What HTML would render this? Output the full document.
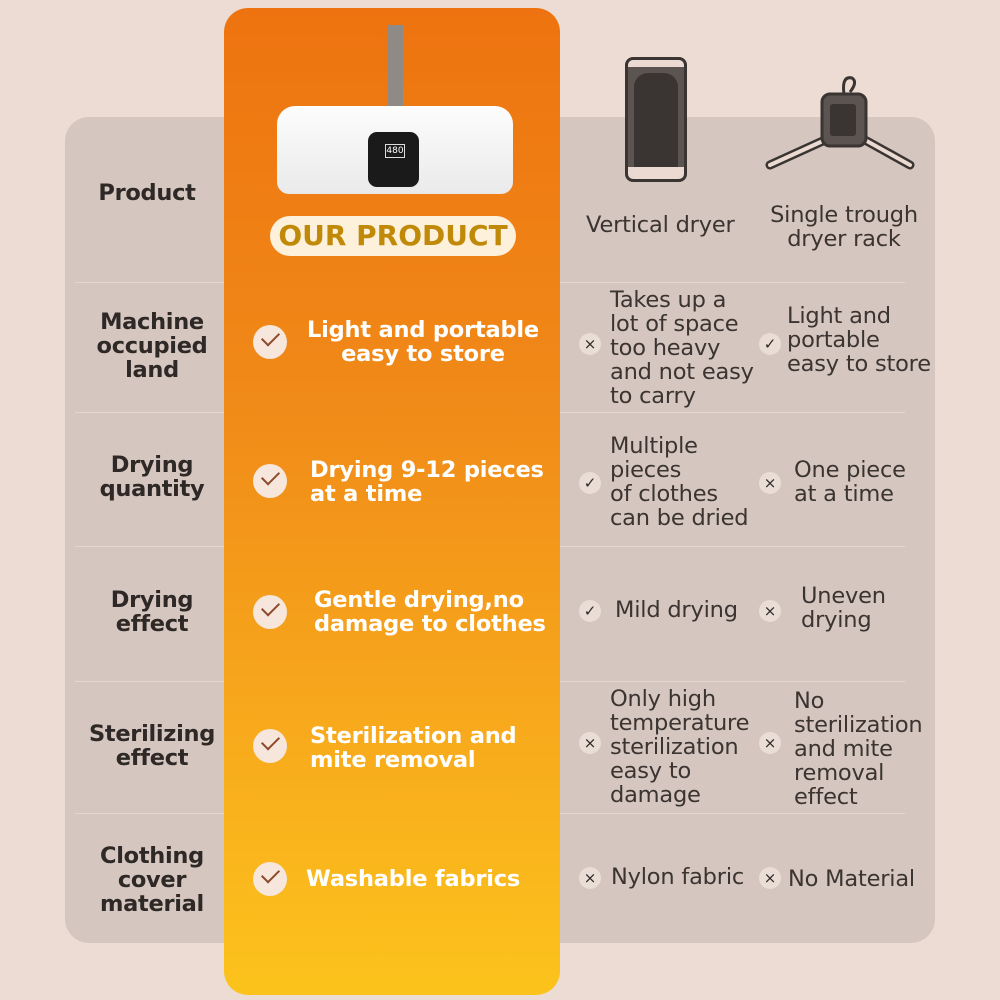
<!DOCTYPE html>
<html><head><meta charset="utf-8"><style>
*{margin:0;padding:0;box-sizing:border-box}
body{width:1000px;height:1000px;background:#ecdcd3;position:relative;overflow:hidden;font-family:"DejaVu Sans","Liberation Sans",sans-serif}
.panel{position:absolute;left:65px;top:117px;width:870px;height:826px;background:#d5c7bf;border-radius:24px}
.sep{position:absolute;left:75px;width:830px;height:1px;background:#e4d8d1}
.col{position:absolute;left:224px;top:8px;width:336px;height:987px;border-radius:24px;background:linear-gradient(#ee7310 0%,#f08a18 40%,#f7a71c 70%,#fcc31c 100%)}
.t{position:absolute;line-height:24px}
.lab{font-weight:bold;color:#2e2826;font-size:22.5px;text-align:center;width:170px;left:67px;letter-spacing:-0.3px}
.ours{color:#fff;font-weight:bold;font-size:22.5px;letter-spacing:-0.2px}
.r{color:#3b3431;font-size:22.5px;letter-spacing:-0.2px}
.ck{position:absolute;width:34px;height:34px;border-radius:50%;background:#f6e6dc}
.ck:after{content:"";position:absolute;left:9px;top:7px;width:15px;height:8px;border-left:2.5px solid #8d4a2a;border-bottom:2.5px solid #8d4a2a;transform:rotate(-45deg)}
.ic{position:absolute;width:22px;height:22px;border-radius:50%;background:#e9ddd6;color:#2e2826;font-size:15px;text-align:center;line-height:22px}
</style></head><body>
<div class="panel"></div>
<div class="sep" style="top:282px"></div>
<div class="sep" style="top:412px"></div>
<div class="sep" style="top:546px"></div>
<div class="sep" style="top:681px"></div>
<div class="sep" style="top:813px"></div>
<div class="col"></div>
<div style="position:absolute;left:388px;top:25px;width:15px;height:85px;background:#8f8a86"></div>
<div style="position:absolute;left:277px;top:106px;width:236px;height:88px;background:linear-gradient(#fdfdfd,#eaeaea);border-radius:18px 18px 12px 12px"></div>
<div style="position:absolute;left:368px;top:132px;width:51px;height:55px;background:#1a1a1a;border-radius:9px"></div>
<div style="position:absolute;left:385px;top:144px;width:20px;height:14px;border:1px solid #ddd;color:#fff;font-size:9px;line-height:12px;text-align:center">480</div>
<div style="position:absolute;left:270px;top:216px;width:246px;height:40px;background:#fdf1dc;border-radius:20px;color:#c08a08;font-weight:bold;font-size:28px;line-height:40px;text-align:center">OUR PRODUCT</div>
<div style="position:absolute;left:625px;top:57px;width:62px;height:125px;border:3px solid #3a3432;border-radius:8px;background:#eadad2"></div>
<div style="position:absolute;left:628px;top:67px;width:56px;height:100px;background:#5b5450"></div>
<div style="position:absolute;left:634px;top:73px;width:44px;height:94px;background:#3a3432;border-radius:14px 14px 0 0"></div>
<svg style="position:absolute;left:760px;top:70px" width="160" height="110"><path d="M85 30 Q80 5 92 8 Q98 12 90 22" fill="none" stroke="#3a3432" stroke-width="3"/><path d="M10 95 L65 70 M150 95 L105 70" stroke="#3a3432" stroke-width="9" stroke-linecap="round"/><path d="M10 95 L65 70 M150 95 L105 70" stroke="#eadad2" stroke-width="4" stroke-linecap="round"/><rect x="62" y="24" width="44" height="52" rx="8" fill="#5b5450" stroke="#3a3432" stroke-width="3"/><rect x="70" y="34" width="26" height="32" rx="3" fill="#3a3432"/></svg>
<div class="t r" style="left:586px;top:213px">Vertical dryer</div>
<div class="t r" style="left:756px;top:203px;text-align:center;width:176px">Single trough<br>dryer rack</div>
<div class="t lab" style="top:181px;left:62px">Product</div>
<div class="t lab" style="top:310px">Machine<br>occupied<br>land</div>
<div class="ck" style="left:253px;top:325px"></div>
<div class="t ours" style="left:290px;top:318px;width:266px;text-align:center">Light and portable<br>easy to store</div>
<div class="ic" style="left:579px;top:333px">×</div>
<div class="t r" style="left:610px;top:288px">Takes up a<br>lot of space<br>too heavy<br>and not easy<br>to carry</div>
<div class="ic" style="left:759px;top:333px">✓</div>
<div class="t r" style="left:787px;top:304px">Light and<br>portable<br>easy to store</div>
<div class="t lab" style="top:453px">Drying<br>quantity</div>
<div class="ck" style="left:253px;top:464px"></div>
<div class="t ours" style="left:310px;top:458px">Drying 9-12 pieces<br>at a time</div>
<div class="ic" style="left:579px;top:472px">✓</div>
<div class="t r" style="left:610px;top:434px">Multiple<br>pieces<br>of clothes<br>can be dried</div>
<div class="ic" style="left:759px;top:472px">×</div>
<div class="t r" style="left:794px;top:458px">One piece<br>at a time</div>
<div class="t lab" style="top:588px">Drying<br>effect</div>
<div class="ck" style="left:253px;top:595px"></div>
<div class="t ours" style="left:314px;top:588px">Gentle drying,no<br>damage to clothes</div>
<div class="ic" style="left:579px;top:600px">✓</div>
<div class="t r" style="left:615px;top:598px">Mild drying</div>
<div class="ic" style="left:759px;top:600px">×</div>
<div class="t r" style="left:801px;top:584px">Uneven<br>drying</div>
<div class="t lab" style="top:722px">Sterilizing<br>effect</div>
<div class="ck" style="left:253px;top:729px"></div>
<div class="t ours" style="left:310px;top:724px">Sterilization and<br>mite removal</div>
<div class="ic" style="left:579px;top:732px">×</div>
<div class="t r" style="left:610px;top:687px">Only high<br>temperature<br>sterilization<br>easy to<br>damage</div>
<div class="ic" style="left:759px;top:732px">×</div>
<div class="t r" style="left:794px;top:689px">No<br>sterilization<br>and mite<br>removal<br>effect</div>
<div class="t lab" style="top:844px">Clothing<br>cover<br>material</div>
<div class="ck" style="left:253px;top:862px"></div>
<div class="t ours" style="left:306px;top:867px">Washable fabrics</div>
<div class="ic" style="left:579px;top:867px">×</div>
<div class="t r" style="left:611px;top:865px">Nylon fabric</div>
<div class="ic" style="left:759px;top:867px">×</div>
<div class="t r" style="left:788px;top:867px">No Material</div>
</body></html>
